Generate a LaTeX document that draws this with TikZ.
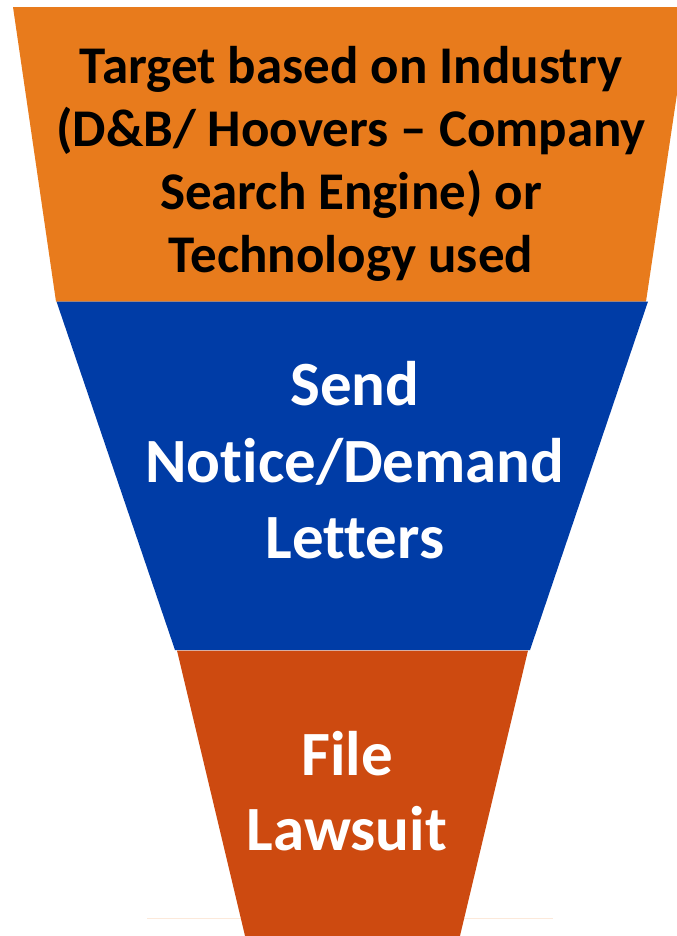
\documentclass[tikz,border=0pt]{standalone}
\usepackage{fontspec}
\setmainfont{Carlito}[Ligatures=NoCommon]
\definecolor{funorange}{HTML}{E87B1C}
\definecolor{funblue}{HTML}{003CA6}
\definecolor{funred}{HTML}{CD4A10}
\definecolor{faintline}{HTML}{FCE9DA}
\tikzset{
  small/.style={font=\fontsize{53bp}{63bp}\selectfont\bfseries, text=black, inner sep=0pt, anchor=base},
  big/.style={font=\fontsize{63bp}{76bp}\selectfont\bfseries, text=white, inner sep=0pt, anchor=base},
}
\begin{document}
\begin{tikzpicture}[x=1bp,y=-1bp]
\useasboundingbox (0,0) rectangle (677,936);
\fill[white] (0,0) rectangle (677,936);
% faint line
\draw[faintline, line width=0.8bp] (147,918) -- (553,918);
% funnel layers
\fill[funorange] (13,7) -- (690,7) -- (646,301.5) -- (56,301.5) -- cycle;
\fill[funblue] (56.5,301.5) -- (648,301.5) -- (530,650) -- (175,650) -- cycle;
\fill[funred] (177,650.5) -- (528,650.5) -- (459,940) -- (246,940) -- cycle;
% texts
\node[small] (t1) at (351,83) {Target based on Industry};
\node[small] (t2) at (351,146) {(D\&B/ Hoovers – Company};
\node[small] (t3) at (351,209) {Search Engine) or};
\node[small] (t4) at (351,272) {Technology used};
\node[big] (b1) at (355,405) {Send};
\node[big] (b2) at (355,482) {Notice/Demand};
\node[big] (b3) at (355,558) {Letters};
\node[big] (r1) at (347,775) {File};
\node[big] (r2) at (347,850) {Lawsuit};
\end{tikzpicture}
\end{document}
